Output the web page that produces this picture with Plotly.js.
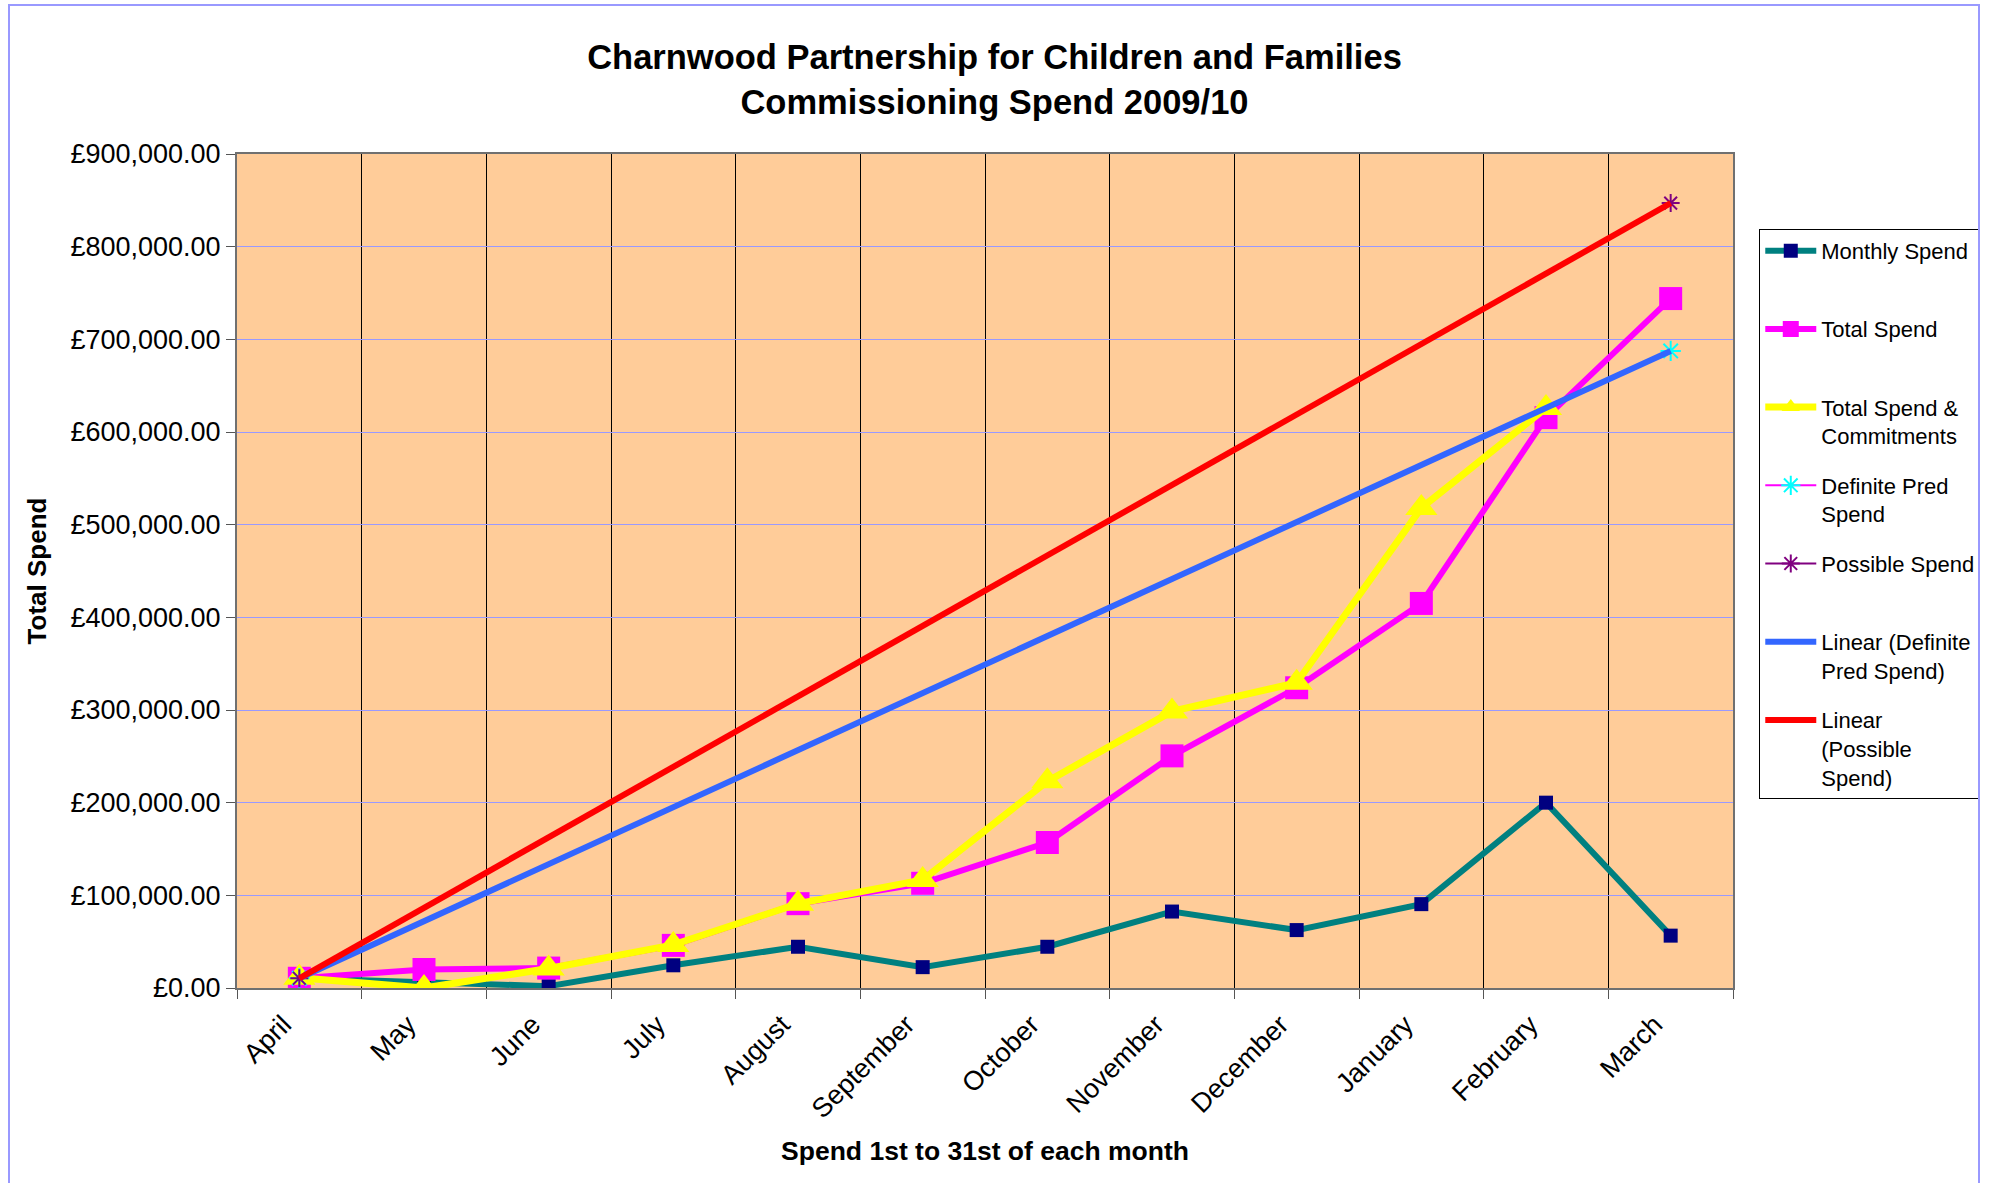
<!DOCTYPE html>
<html>
<head>
<meta charset="utf-8">
<script src="https://cdn.plot.ly/plotly-3.0.1.min.js"></script>
<style>
html,body{margin:0;padding:0;background:#ffffff;overflow:hidden}
#chart{width:1989px;height:1183px;position:absolute;left:0;top:0}
#frame{position:absolute;left:8px;top:4px;width:1968px;height:1300px;border:2px solid #9999ff;pointer-events:none}
</style>
</head>
<body>
<div id="chart"></div>
<div id="frame"></div>
<script>
// ---- data ----
const months = ["April","May","June","July","August","September","October","November","December","January","February","March"];
const monthlySpend = [10500, 7000, 2000, 24500, 44500, 22500, 44500, 82500, 62500, 90500, 200000, 56500];
const totalSpend = [10500, 20000, 21500, 46000, 91000, 113000, 157000, 250500, 324000, 415000, 615500, 744000];
const totalSpendCommitments = [11000, 0, 21000, 46500, 91000, 116500, 223000, 298500, 329500, 518000, 626000, null];
const definitePredSpend = [10500, null, null, null, null, null, null, null, null, null, null, 687500];
const possibleSpend = [10500, null, null, null, null, null, null, null, null, null, null, 847000];
const yTickValues = [0, 100000, 200000, 300000, 400000, 500000, 600000, 700000, 800000, 900000];
const yTickText = yTickValues.map(v => '\u00a3' + v.toLocaleString('en-GB', {minimumFractionDigits: 2, maximumFractionDigits: 2}));

// least-squares linear trend over the non-empty points (x = month index)
function linearTrend(ys) {
  const pts = [];
  ys.forEach((v, i) => { if (v !== null) pts.push([i, v]); });
  const n = pts.length;
  const mx = pts.reduce((s, p) => s + p[0], 0) / n;
  const my = pts.reduce((s, p) => s + p[1], 0) / n;
  let sxy = 0, sxx = 0;
  pts.forEach(p => { sxy += (p[0] - mx) * (p[1] - my); sxx += (p[0] - mx) * (p[0] - mx); });
  const b = sxy / sxx, a = my - b * mx;
  return ys.map((_, i) => a + b * i);
}
const trendDefinite = linearTrend(definitePredSpend);
const trendPossible = linearTrend(possibleSpend);

const F = '"Liberation Sans", Arial, Helvetica, sans-serif';
const NB = '<br>\u00a0';

const traces = [
  {name: 'Monthly Spend' + NB, x: months, y: monthlySpend, type: 'scatter', mode: 'lines+markers',
   line: {color: '#008080', width: 6}, marker: {symbol: 'square', color: '#000080', size: 14}, legendgroup: 'a'},
  {name: 'Total Spend' + NB, x: months, y: totalSpend, type: 'scatter', mode: 'lines+markers',
   line: {color: '#FF00FF', width: 6}, marker: {symbol: 'square', color: '#FF00FF', size: 23}, legendgroup: 'b'},
  {name: 'Total Spend &<br>Commitments', x: months, y: totalSpendCommitments, type: 'scatter', mode: 'lines+markers',
   line: {color: '#FFFF00', width: 7}, marker: {symbol: 'triangle-up', color: '#FFFF00', size: 28}, legendgroup: 'c'},
  {name: 'Definite Pred<br>Spend', x: months, y: definitePredSpend, type: 'scatter', mode: 'lines+markers',
   line: {color: '#FF00FF', width: 2}, marker: {symbol: 'asterisk-open', color: '#00FFFF', size: 17, line: {color: '#00FFFF', width: 2}}, legendgroup: 'd'},
  {name: 'Possible Spend' + NB, x: months, y: possibleSpend, type: 'scatter', mode: 'lines+markers',
   line: {color: '#800080', width: 2}, marker: {symbol: 'asterisk-open', color: '#800080', size: 15, line: {color: '#800080', width: 2}}, legendgroup: 'e'},
  {name: 'Linear (Definite<br>Pred Spend)', x: months, y: trendDefinite, type: 'scatter', mode: 'lines',
   line: {color: '#3366FF', width: 6}, legendgroup: 'f'},
  {name: 'Linear<br>(Possible<br>Spend)', x: months, y: trendPossible, type: 'scatter', mode: 'lines',
   line: {color: '#FF0000', width: 6}, legendgroup: 'g'}
];

const layout = {
  width: 1989, height: 1183,
  margin: {l: 237, r: 256, t: 154, b: 195},
  paper_bgcolor: '#FFFFFF',
  plot_bgcolor: '#FFCC99',
  font: {family: F, color: '#000000', size: 22},
  showlegend: true,
  title: {
    text: '<b>Charnwood Partnership for Children and Families<br>Commissioning Spend 2009/10</b>',
    font: {family: F, size: 34.5, color: '#000000'},
    x: 0.5, xref: 'container', xanchor: 'center',
    y: 0.9416, yref: 'container', yanchor: 'middle'
  },
  xaxis: {
    type: 'category',
    categoryorder: 'array', categoryarray: months,
    range: [-0.5, 11.5],
    tickson: 'boundaries',
    showgrid: true, gridcolor: '#000000', gridwidth: 1,
    ticks: 'outside', ticklen: 9, tickcolor: '#555555', tickwidth: 1,
    tickangle: -45,
    ticklabelshift: -16,
    ticklabelstandoff: 8,
    tickfont: {family: F, size: 27, color: '#000000'},
    showline: true, linecolor: '#707070', linewidth: 2, mirror: true,
    zeroline: false,
    title: {text: '<b>Spend 1st to 31st of each month</b>', font: {family: F, size: 26.5, color: '#000000'}, standoff: 18},
    fixedrange: true
  },
  yaxis: {
    range: [0, 900000],
    tickmode: 'array', tickvals: yTickValues, ticktext: yTickText,
    showgrid: true, gridcolor: '#9999FF', gridwidth: 1,
    ticks: 'outside', ticklen: 9, tickcolor: '#555555', tickwidth: 1,
    tickfont: {family: F, size: 27, color: '#000000'},
    showline: true, linecolor: '#707070', linewidth: 2, mirror: true,
    zeroline: false,
    title: {text: '<b>Total Spend</b>', font: {family: F, size: 26, color: '#000000'}, standoff: 16},
    fixedrange: true
  },
  legend: {
    x: 0.8845, xanchor: 'left', xref: 'container',
    y: 0.8065, yanchor: 'top', yref: 'container',
    bgcolor: '#FFFFFF', bordercolor: '#000000', borderwidth: 1,
    font: {family: F, size: 22, color: '#000000'},
    traceorder: 'grouped', tracegroupgap: 18,
    valign: 'top', itemwidth: 51
  }
};

Plotly.newPlot('chart', traces, layout, {displayModeBar: false, staticPlot: true});
</script>
</body>
</html>
